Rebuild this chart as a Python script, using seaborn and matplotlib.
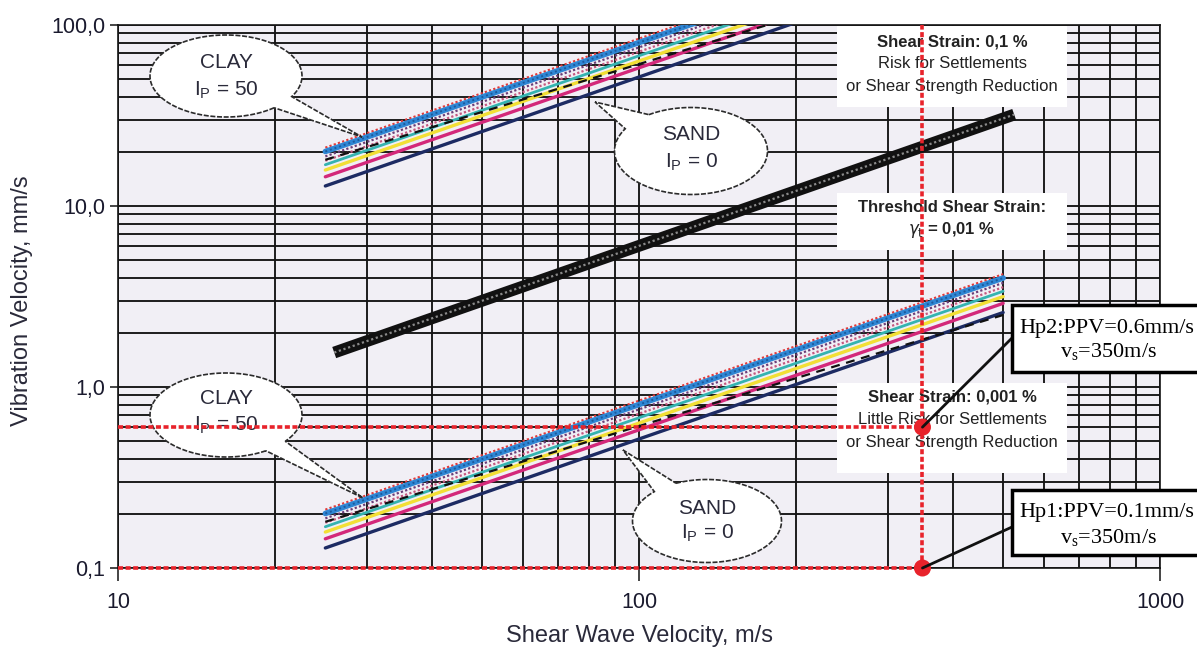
import numpy as np
import pandas as pd
import matplotlib.pyplot as plt
import seaborn as sns
from matplotlib.patches import Polygon, Rectangle
from matplotlib.ticker import FixedLocator, NullFormatter

sns.set_style("white")
plt.rcParams['font.family'] = ['Liberation Sans', 'DejaVu Sans']

# ---------------------------------------------------------------------------
# Data
# ---------------------------------------------------------------------------
vs_ends = [25, 500]                       # shear wave velocity, m/s

bundle_colors = ['#e23a3a', '#2f86d4', '#6b3d78', '#c4577e',
                 '#35b3b0', '#f2df35', '#d3287a', '#1d2b63']
bundle_styles = [(0, (1, 1)), '-', (0, (1, 1)), (0, (1, 1)),
                 '-', '-', '-', '-']
bundle_widths = [1.6, 4.0, 1.6, 1.6, 2.0, 2.4, 2.4, 2.4]

# Shear strain 0,1 % bundle (CLAY Ip=50 on top ... SAND Ip=0 at bottom)
ppv_01_at_25 = [21.0, 20.0, 18.8, 17.8, 16.9, 15.8, 14.5, 12.9]
ppv_01_at_500 = [420, 400, 376, 356, 338, 316, 290, 258]
dashed_01 = [18.0, 250]

# Shear strain 0,001 % bundle
ppv_0001_at_25 = [0.210, 0.200, 0.188, 0.178, 0.169, 0.158, 0.145, 0.129]
ppv_0001_at_500 = [4.20, 4.00, 3.76, 3.56, 3.38, 3.16, 2.90, 2.58]
dashed_0001 = [0.180, 2.50]

# Threshold shear strain 0,01 %
threshold_vs = [26, 525]
threshold_ppv = [1.55, 32.0]

# Hypothesis points
hp_vs = [350, 350]
hp_ppv = [0.6, 0.1]

x_ticks = [10, 100, 1000]
x_labels = ['10', '100', '1000']
y_ticks = [0.1, 1, 10, 100]
y_labels = ['0,1', '1,0', '10,0', '100,0']

# ---------------------------------------------------------------------------
W, H = 1197, 649
fig = plt.figure(figsize=(W / 100, H / 100), dpi=100)
ax = fig.add_axes([118 / W, 1 - 568 / H, 1042 / W, 543 / H])
ax.set_facecolor('#f1eff5')


def fx(px):
    return px / W


def fy(py):
    return 1 - py / H


ax.set_xscale('log')
ax.set_yscale('log')
ax.set_xlim(10, 1000)
ax.set_ylim(0.1, 100)
ax.set_axisbelow(True)
ax.grid(True, which='both', color='#151515', lw=1.35)

# --- strain bundles ---
for i in range(len(bundle_colors)):
    for vals in ([ppv_01_at_25[i], ppv_01_at_500[i]],
                 [ppv_0001_at_25[i], ppv_0001_at_500[i]]):
        sns.lineplot(x=vs_ends, y=vals, ax=ax, color=bundle_colors[i],
                     lw=bundle_widths[i], ls=bundle_styles[i],
                     estimator=None, sort=False, zorder=3)
        if i == 1:
            sns.lineplot(x=vs_ends, y=vals, ax=ax, color='#1b5a9c',
                         lw=1.4, ls=(0, (1, 1.5)), estimator=None,
                         sort=False, zorder=3)

for vals in (dashed_01, dashed_0001):
    sns.lineplot(x=vs_ends, y=vals, ax=ax, color='#111111', lw=1.6,
                 ls=(0, (4, 3)), estimator=None, sort=False, zorder=3)

# --- threshold line ---
sns.lineplot(x=threshold_vs, y=threshold_ppv, ax=ax, color='#111111', lw=8.5,
             estimator=None, sort=False, zorder=3, solid_capstyle='butt')
sns.lineplot(x=threshold_vs, y=threshold_ppv, ax=ax, color='#8a8a8a', lw=1.6,
             ls=(0, (1, 1.2)), estimator=None, sort=False, zorder=3)

# --- white text boxes inside the chart ---
for (x0, y0, x1, y1) in [(837, 26, 1067, 107), (837, 193, 1067, 250),
                         (837, 383, 1067, 473)]:
    ax.add_artist(Rectangle((fx(x0), fy(y1)), fx(x1) - fx(x0), fy(y0) - fy(y1),
                            transform=fig.transFigure, fc='white', ec='none',
                            zorder=2))

txt_kw = dict(transform=fig.transFigure, ha='center', va='center',
              fontsize=12, color='#222222', zorder=5)
ax.text(fx(952), fy(42), 'Shear Strain: 0,1 %', fontweight='bold', **txt_kw)
ax.text(fx(952), fy(63), 'Risk for Settlements', **txt_kw)
ax.text(fx(952), fy(86), 'or Shear Strength Reduction', **txt_kw)
ax.text(fx(952), fy(208), 'Threshold Shear Strain:', fontweight='bold', **txt_kw)
ax.text(fx(952), fy(230), r'$\gamma_\mathrm{t}$ = 0,01 %', fontweight='bold', **txt_kw)
ax.text(fx(952), fy(397), 'Shear Strain: 0,001 %', fontweight='bold', **txt_kw)
ax.text(fx(952), fy(420), 'Little Risk for Settlements', **txt_kw)
ax.text(fx(952), fy(442), 'or Shear Strength Reduction', **txt_kw)


# --- speech bubbles ---
def bubble(cx, cy, w, h, b1, b2, tip, line1, line2, y1, y2):
    a, b = w / 2, h / 2
    t1 = np.arctan2((b1[1] - cy) / b, (b1[0] - cx) / a)
    t2 = np.arctan2((b2[1] - cy) / b, (b2[0] - cx) / a)
    if (t2 - t1) % (2 * np.pi) > np.pi:
        t1, t2 = t2, t1
    span = (t2 - t1) % (2 * np.pi)
    ts = t2 + np.linspace(0, 2 * np.pi - span, 150)
    pts = [(fx(cx + a * np.cos(t)), fy(cy + b * np.sin(t))) for t in ts]
    pts.append((fx(tip[0]), fy(tip[1])))
    ax.add_artist(Polygon(pts, closed=True, transform=fig.transFigure,
                          fc='white', ec='#2b2b2b', lw=1.2, ls=(0, (3, 1)),
                          zorder=4))
    ax.text(fx(cx), fy(y1), line1, transform=fig.transFigure, ha='center',
            va='center', fontsize=15, color='#2a2a3a', zorder=5)
    ax.text(fx(cx), fy(y2), line2, transform=fig.transFigure, ha='center',
            va='center', fontsize=15, color='#2a2a3a', zorder=5)


ip50 = r'$\mathregular{I_P}$ = 50'
ip0 = r'$\mathregular{I_P}$ = 0'
bubble(226, 76, 152, 82, (273, 107), (293, 97), (362, 137), 'CLAY', ip50, 63, 90)
bubble(691, 151, 153, 87, (623, 128), (647, 113), (595, 102), 'SAND', ip0, 135, 162)
bubble(226, 415, 152, 84, (265, 450), (287, 442), (363, 498), 'CLAY', ip50, 398, 425)
bubble(707, 521, 149, 83, (655, 492), (675, 482), (623, 450), 'SAND', ip0, 508, 533)

# --- red reference lines and points ---
red = '#e8232b'
red_ls = (0, (1.4, 0.7))
ax.plot([10, hp_vs[0]], [hp_ppv[0], hp_ppv[0]], color=red, lw=2.6, ls=red_ls, zorder=7)
ax.plot([10, hp_vs[1]], [hp_ppv[1], hp_ppv[1]], color=red, lw=2.6, ls=red_ls,
        zorder=7, clip_on=False)
ax.plot([hp_vs[0], hp_vs[0]], [hp_ppv[1], 100], color=red, lw=2.6, ls=red_ls, zorder=7)
sns.scatterplot(x=hp_vs, y=hp_ppv, ax=ax, color=red, s=150, edgecolor='none',
                zorder=8)
for c in ax.collections:
    c.set_clip_on(False)

# --- Hp boxes on the right ---
for (y0, y1) in [(305, 372), (490, 555)]:
    fig.add_artist(Rectangle((fx(1012), fy(y1)), fx(1205) - fx(1012), fy(y0) - fy(y1),
                             transform=fig.transFigure, fc='white', ec='black',
                             lw=2.5, zorder=5))
hp_kw = dict(ha='center', va='center', fontsize=16, family='Liberation Serif',
             color='black', zorder=6)
fig.text(fx(1107), fy(328), 'Hp2:PPV=0.6mm/s', **hp_kw)
fig.text(fx(1109), fy(351), r'$\mathregular{v_s}$=350m/s', **hp_kw)
fig.text(fx(1107), fy(512), 'Hp1:PPV=0.1mm/s', **hp_kw)
fig.text(fx(1109), fy(537), r'$\mathregular{v_s}$=350m/s', **hp_kw)

for (px, py, ppv) in [(1012, 338, hp_ppv[0]), (1012, 527, hp_ppv[1])]:
    ax.annotate('', xy=(hp_vs[0], ppv), xycoords='data',
                xytext=(fx(px), fy(py)), textcoords='figure fraction',
                arrowprops=dict(arrowstyle='-', color='#111111', lw=2,
                                shrinkA=0, shrinkB=0),
                annotation_clip=False, zorder=9)

# --- axes, ticks and labels ---
ax.xaxis.set_major_locator(FixedLocator(x_ticks))
ax.yaxis.set_major_locator(FixedLocator(y_ticks))
ax.xaxis.set_minor_formatter(NullFormatter())
ax.yaxis.set_minor_formatter(NullFormatter())
ax.set_xticklabels(x_labels)
ax.set_yticklabels(y_labels)
ax.tick_params(which='minor', length=0)
ax.tick_params(axis='x', which='major', length=9, width=1.2, pad=8,
               labelsize=15.5, labelcolor='#1a1a2e', bottom=True)
ax.tick_params(axis='y', which='major', length=6, width=1.2, pad=3,
               labelsize=15.5, labelcolor='#1a1a2e', left=True)
for s in ax.spines.values():
    s.set_color('#151515')
    s.set_linewidth(1.2)

ax.set_xlabel('Shear Wave Velocity, m/s', fontsize=17, color='#2a2a3a')
ax.set_ylabel('Vibration Velocity, mm/s', fontsize=17, color='#2a2a3a')
ax.xaxis.set_label_coords(0.5, -0.105)
ax.yaxis.set_label_coords(-0.082, 0.492)

fig.savefig('out.png', dpi=100)
